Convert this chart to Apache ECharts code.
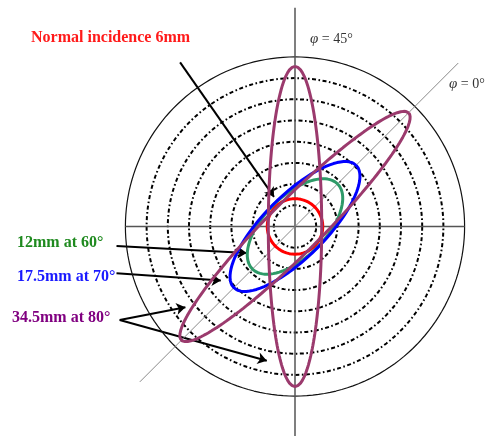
<!DOCTYPE html>
<html>
<head>
<meta charset="utf-8">
<script src="https://cdn.jsdelivr.net/npm/echarts@6/dist/echarts.min.js"></script>
<style>
  html, body { margin: 0; padding: 0; background: #fff; }
  #chart { width: 489px; height: 436px; }
</style>
</head>
<body>
<div id="chart"></div>
<script>
// Polar footprint diagram: beam spot on a target for different incidence angles.
// Units: one ring step of the dash-dot grid.
const ringRadii = [1, 2, 3, 4, 5, 6, 7];
const outerRadius = 8;

// beams: semi-axes and orientation of the major axis (deg from +x)
const beamNames = ['Normal incidence 6mm', '12mm at 60°', '17.5mm at 70°', '34.5mm at 80°', '34.5mm at 80° (φ=45°)'];
const beamSemiMajor = [1.31, 2.84, 4.08, 7.58, 7.55];
const beamSemiMinor = [1.31, 1.44, 1.46, 1.24, 1.26];
const beamAngle = [0, 45, 45, 45, 90];
const beamColors = ['#ff0000', '#2e9a68', '#0000ff', '#9b3a6d', '#9b3a6d'];

// reference lines: vertical (φ=45°), horizontal, diagonal (φ=0°)
const axisLines = [
  [[0, 10.32], [0, -10.6]],
  [[-outerRadius, 0], [outerRadius, 0]],
  [[-7.32, -7.33], [7.7, 7.71]]
];

// label arrows [from, to]
const arrowLines = [
  [[-5.42, 7.74], [-0.99, 1.40]],
  [[-8.42, -0.92], [-2.28, -1.25]],
  [[-8.42, -2.20], [-3.50, -2.55]],
  [[-8.27, -4.41], [-5.17, -3.81]],
  [[-8.27, -4.41], [-1.33, -6.33]]
];

function ellipsePoints(a, b, angleDeg) {
  const pts = [];
  const r = angleDeg * Math.PI / 180;
  const c = Math.cos(r), s = Math.sin(r);
  for (let i = 0; i <= 180; i++) {
    const t = i * 2 * Math.PI / 180;
    const u = a * Math.cos(t), v = b * Math.sin(t);
    pts.push([u * c - v * s, u * s + v * c]);
  }
  return pts;
}

const chart = echarts.init(document.getElementById('chart'));

const series = [];

ringRadii.forEach((r) => {
  series.push({
    type: 'line',
    data: ellipsePoints(r, r, 0),
    showSymbol: false,
    silent: true,
    lineStyle: { color: '#000', width: 2, type: [4, 2.5, 1.6, 2.5] }
  });
});

series.push({
  type: 'line',
  data: ellipsePoints(outerRadius, outerRadius, 0),
  showSymbol: false,
  silent: true,
  lineStyle: { color: '#111', width: 1.2 }
});

axisLines.forEach((seg, i) => {
  series.push({
    type: 'line',
    data: seg,
    showSymbol: false,
    silent: true,
    lineStyle: { color: i === 2 ? '#8a8a8a' : '#555', width: i === 2 ? 1 : 1.5 }
  });
});

beamNames.forEach((name, i) => {
  series.push({
    name: name,
    type: 'line',
    data: ellipsePoints(beamSemiMajor[i], beamSemiMinor[i], beamAngle[i]),
    showSymbol: false,
    silent: true,
    lineStyle: { color: beamColors[i], width: 3 }
  });
});

series.push({
  type: 'lines',
  coordinateSystem: 'cartesian2d',
  silent: true,
  symbol: ['none', 'arrow'],
  symbolSize: [0, 9],
  lineStyle: { color: '#000', width: 2, opacity: 1, curveness: 0 },
  data: arrowLines.map((seg) => ({ coords: seg }))
});

const labelFont = 'bold 16px "Liberation Serif", "DejaVu Serif", serif';

const option = {
  backgroundColor: '#fff',
  animation: false,
  // 21.2 px per ring step, centre at (295, 226.5)
  grid: { left: 104.2, top: 3.9, width: 381.6, height: 431.4, outerBoundsMode: 'none' },
  xAxis: { type: 'value', min: -9, max: 9, show: false },
  yAxis: { type: 'value', min: -9.85, max: 10.5, show: false },
  series: series,
  graphic: [
    {
      type: 'text', left: 31, top: 30,
      style: { text: 'Normal incidence 6mm', fill: '#ff1a1a', font: labelFont }
    },
    {
      type: 'text', left: 17, top: 235,
      style: { text: '12mm at 60°', fill: '#1f8a1f', font: labelFont }
    },
    {
      type: 'text', left: 17, top: 269,
      style: { text: '17.5mm at 70°', fill: '#1a1aff', font: labelFont }
    },
    {
      type: 'text', left: 12, top: 310,
      style: { text: '34.5mm at 80°', fill: '#800080', font: labelFont }
    },
    {
      type: 'text', left: 310, top: 32,
      style: {
        text: '{i|φ} = 45°',
        fill: '#333',
        font: '14px "Liberation Serif", serif',
        rich: { i: { fontStyle: 'italic', fontSize: 15, fontFamily: 'Liberation Serif' } }
      }
    },
    {
      type: 'text', left: 449, top: 77,
      style: {
        text: '{i|φ} = 0°',
        fill: '#333',
        font: '14px "Liberation Serif", serif',
        rich: { i: { fontStyle: 'italic', fontSize: 15, fontFamily: 'Liberation Serif' } }
      }
    }
  ]
};

chart.setOption(option);
</script>
</body>
</html>
